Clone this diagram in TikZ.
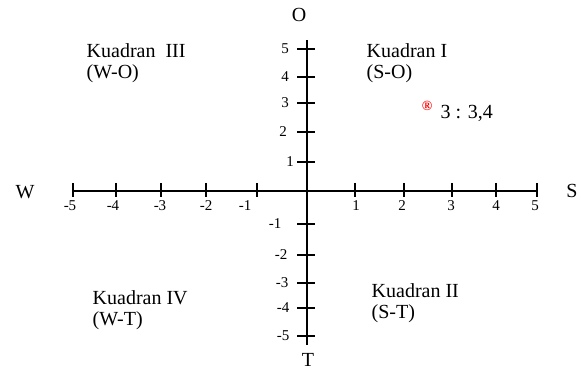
\documentclass[tikz,border=0pt]{standalone}
\usepackage{fontspec}
\setmainfont{Liberation Serif}
\usetikzlibrary{positioning}

\begin{document}
\begin{tikzpicture}[x=1pt, y=-1pt, line width=1.4pt,
    lbl/.style={font=\fontsize{20}{21}\selectfont, inner sep=0pt},
    num/.style={font=\fontsize{15}{16}\selectfont, inner sep=0pt},
    kd/.style={font=\fontsize{20}{21}\selectfont, align=left, inner sep=0pt, anchor=north west}]
    \useasboundingbox (0,0) rectangle (581,371);
    % axes
    \coordinate (wend) at (73,191);
    \coordinate (send) at (537,191);
    \coordinate (oend) at (307,40);
    \coordinate (tend) at (307,345);
    \draw (wend) -- (send);
    \draw (oend) -- (tend);
    % ticks on horizontal axis
    \foreach \x/\lx/\t in {73/70/-5, 116/113/-4, 161/160/-3, 206/206/-2, 257/245/-1,
        355/356/1, 404/402/2, 452/451/3, 496/496/4, 537/535/5} {
        \draw (\x,183) -- (\x,197);
        \node[num] at (\lx,206) {\t};
    }
    % ticks on vertical axis
    \foreach \y/\lx/\t in {49/285/5, 77/285/4, 103/285/3, 132/283/2, 162/290/1,
        224/275/-1, 255/281/-2, 283/282/-3, 308/283/-4, 336/283/-5} {
        \draw (297,\y) -- (315,\y);
        \node[num] at (\lx,\y) {\t};
    }
    % axis names
    \node[lbl] (o) at (299,15) {O};
    \node[lbl] (t) at (308,360) {T};
    \node[lbl] (w) at (25,192) {W};
    \node[lbl] (s) at (572,191) {S};
    % quadrants
    \node[kd] (k3) at (86,43) {Kuadran\ \ III\\(W-O)};
    \node[kd] (k1) at (366,43) {Kuadran I\\(S-O)};
    \node[kd] (k4) at (92,290) {Kuadran IV\\(W-T)};
    \node[kd] (k2) at (371,283) {Kuadran II\\(S-T)};
    % point
    \node[inner sep=0pt, text=red, font=\bfseries\fontsize{14}{15}\selectfont] (pt) at (427,106) {\textregistered};
    \node[lbl, anchor=west] (ptl) at (440,113) {3 : 3,4};
\end{tikzpicture}
\end{document}
